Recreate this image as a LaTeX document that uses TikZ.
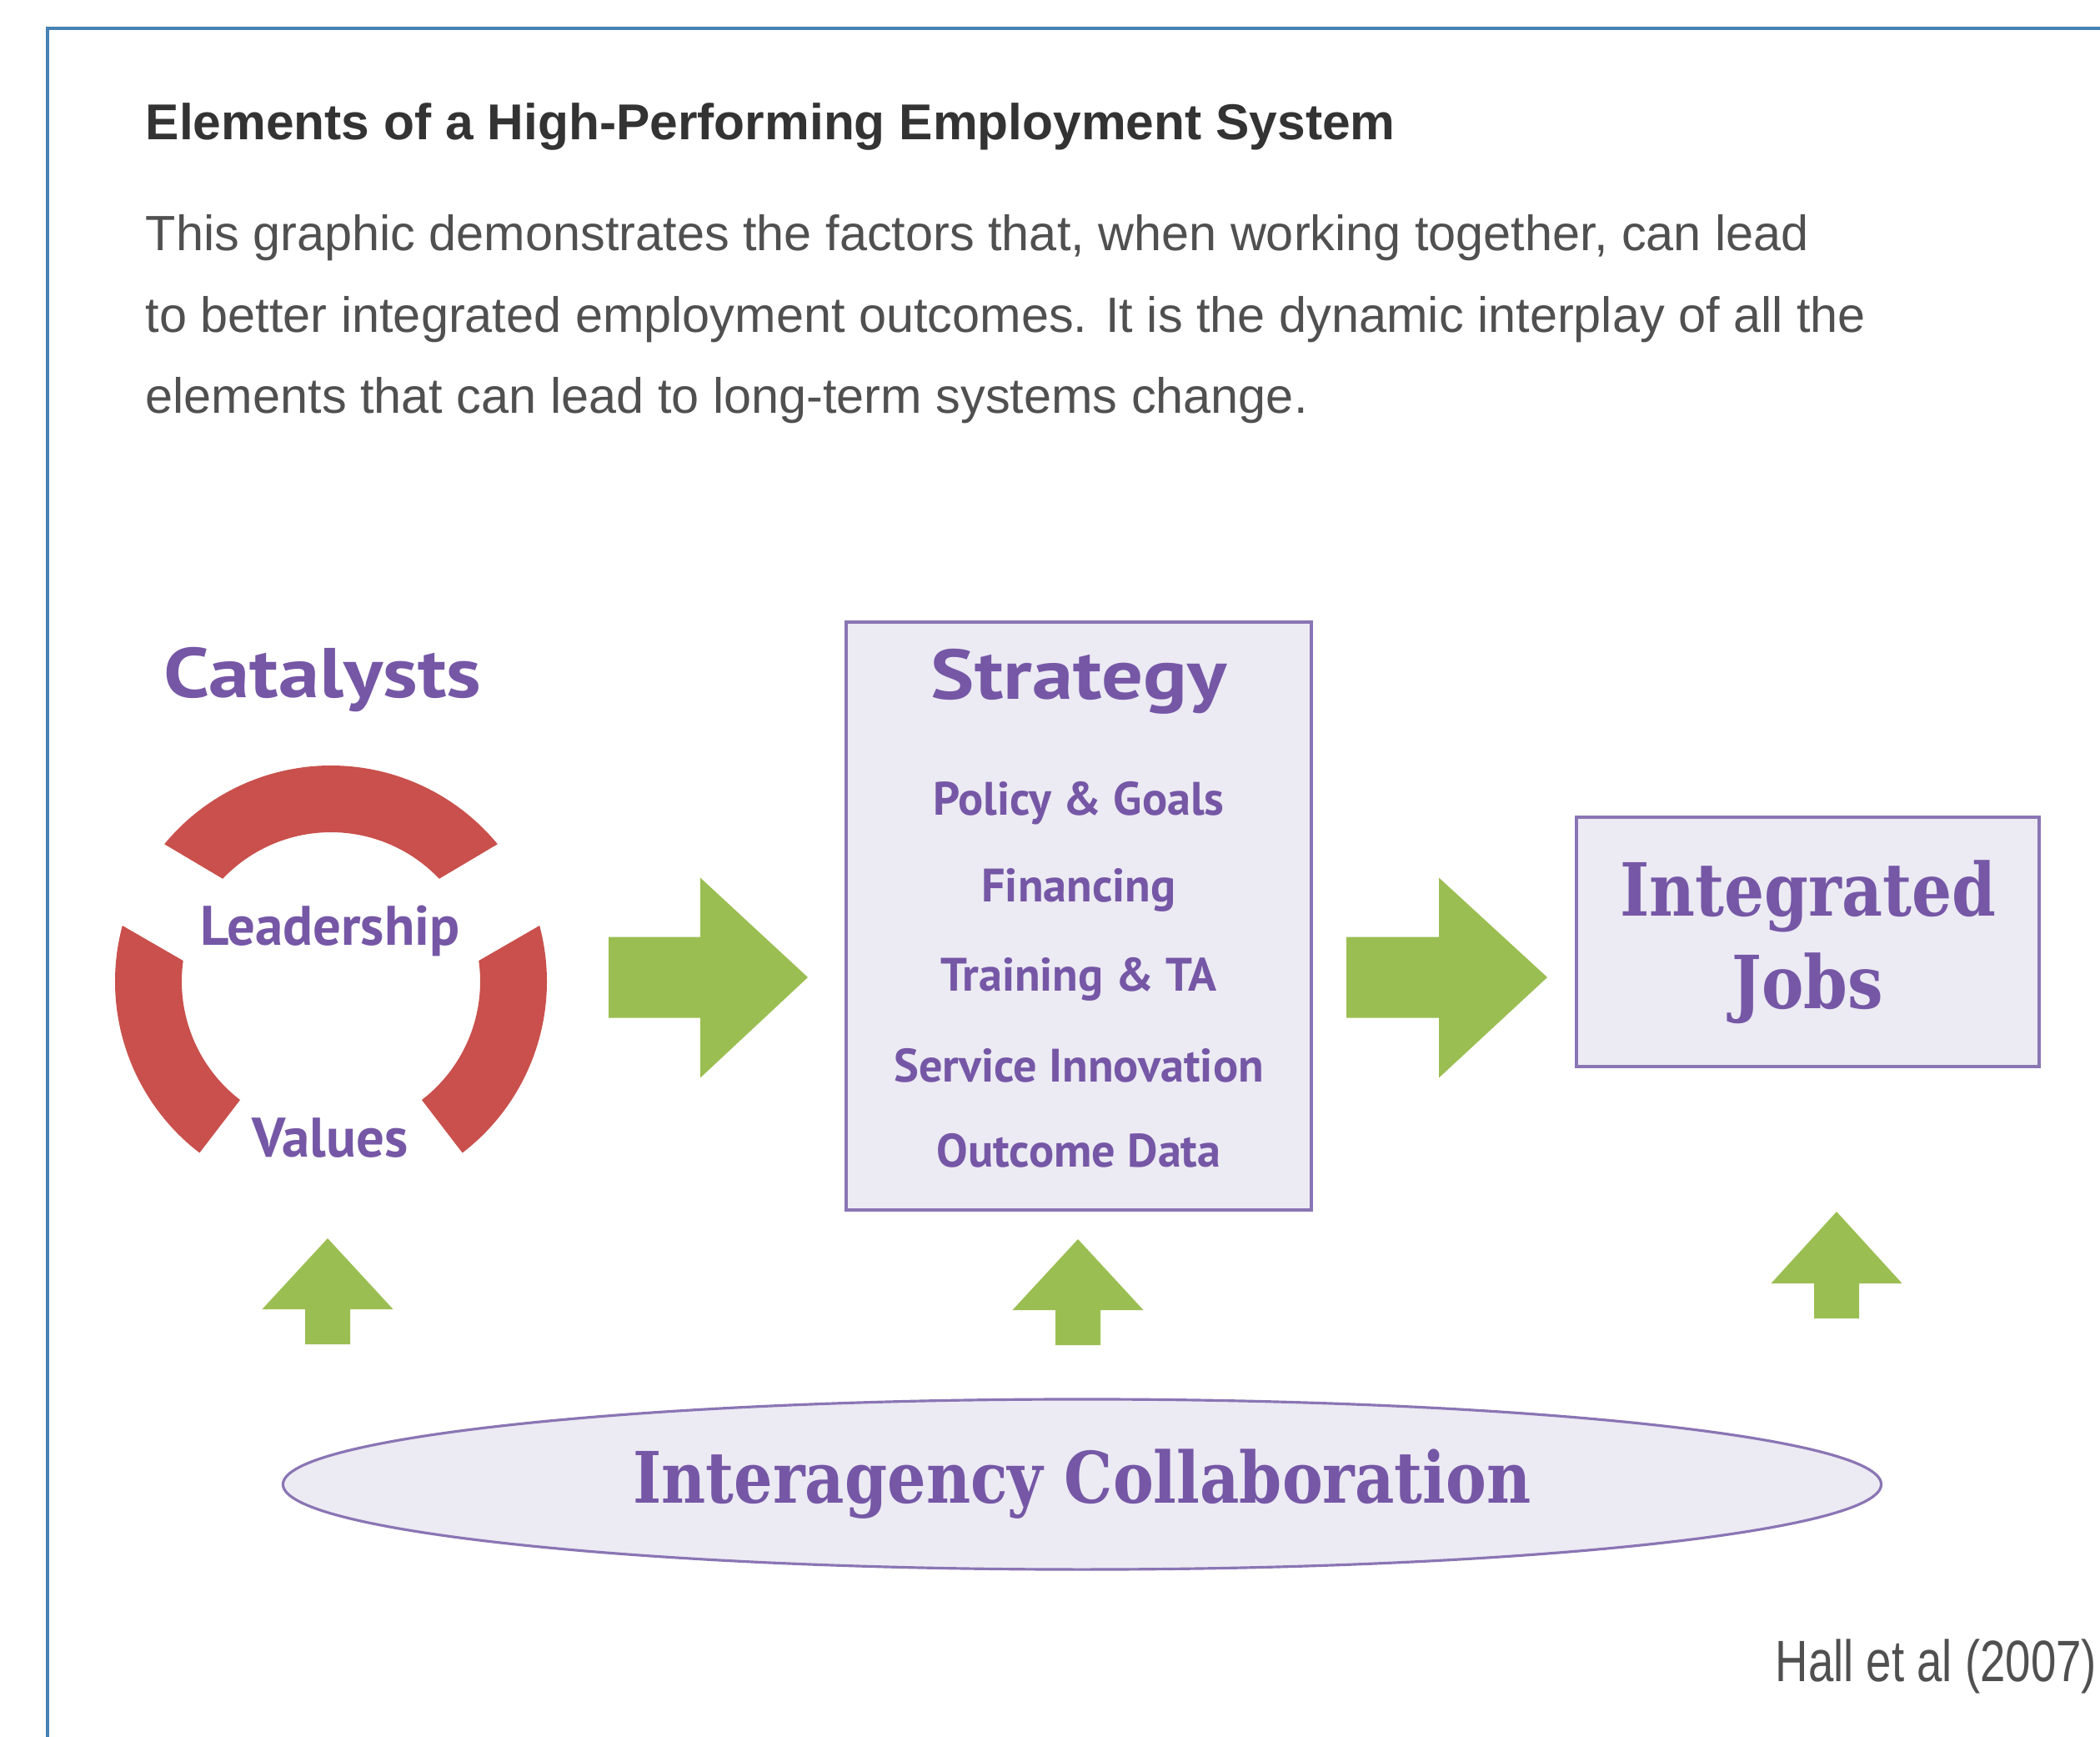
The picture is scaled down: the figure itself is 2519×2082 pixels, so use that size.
\documentclass[tikz,border=0pt]{standalone}
\usepackage{fontspec}
\setmainfont{Liberation Sans}
\newfontfamily\tagfont{PT Sans}
\newfontfamily\stagefont[FakeStretch=1.17]{PT Sans}
\newfontfamily\slabfont[FakeStretch=0.86]{DejaVu Serif}
\newfontfamily\notefont[FakeStretch=0.78]{Liberation Sans}
\usetikzlibrary{positioning, shapes.geometric}

\definecolor{frameblue}{RGB}{70,130,180}
\definecolor{inkgray}{RGB}{51,51,51}
\definecolor{textgray}{RGB}{80,80,80}
\definecolor{labelpurple}{RGB}{117,87,166}
\definecolor{boxfill}{RGB}{236,234,243}
\definecolor{boxline}{RGB}{138,117,180}
\definecolor{catalystred}{RGB}{201,80,76}
\definecolor{arrowgreen}{RGB}{155,190,82}

\begin{document}
\begin{tikzpicture}[
    x=0.01cm, y=-0.01cm,
    heading/.style={anchor=base west, inner sep=0pt, text=inkgray, font=\fontsize{17.2}{20}\selectfont\bfseries},
    body/.style={anchor=base west, inner sep=0pt, text=textgray, font=\fontsize{16.9}{20}\selectfont},
    note/.style={anchor=base west, inner sep=0pt, text=textgray, font=\notefont\fontsize{19.9}{22}\selectfont},
    stage/.style={anchor=base, inner sep=0pt, text=labelpurple, font=\stagefont\bfseries\fontsize{24}{28}\selectfont},
    ringlabel/.style={anchor=base, inner sep=0pt, text=labelpurple, font=\tagfont\bfseries\fontsize{19}{22}\selectfont},
    item/.style={anchor=base, inner sep=0pt, text=labelpurple, font=\tagfont\bfseries\fontsize{16}{18}\selectfont},
    panel/.style={rectangle, draw=boxline, fill=boxfill, line width=1.1pt, inner sep=0pt},
    outcome/.style={panel, align=center, text=labelpurple, font=\slabfont\bfseries\fontsize{25}{31.6}\selectfont},
    base/.style={ellipse, draw=boxline, fill=boxfill, line width=0.9pt, inner sep=0pt, text=labelpurple, font=\slabfont\bfseries\fontsize{24.2}{28}\selectfont},
    catalyst/.style={fill=catalystred},
    push/.style={fill=arrowgreen}
]

\path[use as bounding box, fill=white] (0,0) rectangle (2519,2082);

% Frame round the panel
\draw[frameblue, line width=1.3pt] (57,34) rectangle (2600,2200);

% Heading and intro text
\node[heading] (title) at (174,167) {Elements of a High-Performing Employment System};
\node[body] (intro1) at (174,300) {This graphic demonstrates the factors that, when working together, can lead};
\node[body] (intro2) at (174,398) {to better integrated employment outcomes. It is the dynamic interplay of all the};
\node[body] (intro3) at (174,495) {elements that can lead to long-term systems change.};

% Catalysts ring
\node[stage] (catalysts) at (387,836) {Catalysts};
\coordinate (ring) at (397,1177);
\begin{scope}[shift={(ring)}, yscale=-1]
    \fill[catalyst] (39.5:259) arc[start angle=39.5, end angle=140.5, radius=259]
        -- (136.5:179) arc[start angle=136.5, end angle=43.5, radius=179] -- cycle;
    \fill[catalyst] (165:259) arc[start angle=165, end angle=232.5, radius=259]
        -- (232.5:179) arc[start angle=232.5, end angle=172, radius=179] -- cycle;
    \fill[catalyst] (-52.5:259) arc[start angle=-52.5, end angle=15, radius=259]
        -- (8:179) arc[start angle=8, end angle=-52.5, radius=179] -- cycle;
\end{scope}
\node[ringlabel] (leadership) at (396,1133) {Leadership};
\node[ringlabel] (values) at (396,1387) {Values};

% Strategy box
\node[panel, minimum width=5.58cm, minimum height=7.04cm] (strategy) at (1294,1098.5) {};
\node[stage] (strategytitle) at (1294,838) {Strategy};
\node[item] (policy) at (1294,977) {Policy \& Goals};
\node[item] (financing) at (1294,1081) {Financing};
\node[item] (training) at (1294,1188) {Training \& TA};
\node[item] (service) at (1294,1297) {Service Innovation};
\node[item] (outcomedata) at (1294,1399) {Outcome Data};

% Outcome box
\node[outcome, minimum width=5.55cm, minimum height=2.99cm] (jobs) at (2168.5,1129.5) {Integrated\\Jobs};

% Collaboration base
\node[base, minimum width=19.16cm, minimum height=2.04cm] (collab) at (1298,1780) {Interagency Collaboration};

% Block arrows
\coordinate (push1) at (730,1172);
\coordinate (push2) at (1615,1172);
\fill[push] (push1) ++(0,-48.5) -- ++(110,0) -- ++(0,-71) -- ++(129,119.5) -- ++(-129,120.5) -- ++(0,-72) -- ++(-110,0) -- cycle;
\fill[push] (push2) ++(0,-48.5) -- ++(111,0) -- ++(0,-71) -- ++(130,119.5) -- ++(-130,120.5) -- ++(0,-72) -- ++(-111,0) -- cycle;

\coordinate (lift1) at (393,1485);
\coordinate (lift2) at (1293,1486);
\coordinate (lift3) at (2203,1453);
\fill[push] (lift1) -- ++(78.5,85) -- ++(-51.5,0) -- ++(0,42) -- ++(-54,0) -- ++(0,-42) -- ++(-51.5,0) -- cycle;
\fill[push] (lift2) -- ++(78.5,85) -- ++(-51.5,0) -- ++(0,42) -- ++(-54,0) -- ++(0,-42) -- ++(-51.5,0) -- cycle;
\fill[push] (lift3) -- ++(78.5,86) -- ++(-51.5,0) -- ++(0,42) -- ++(-54,0) -- ++(0,-42) -- ++(-51.5,0) -- cycle;

% Source
\node[note] (source) at (2129,2016) {Hall et al (2007)};

\end{tikzpicture}
\end{document}
